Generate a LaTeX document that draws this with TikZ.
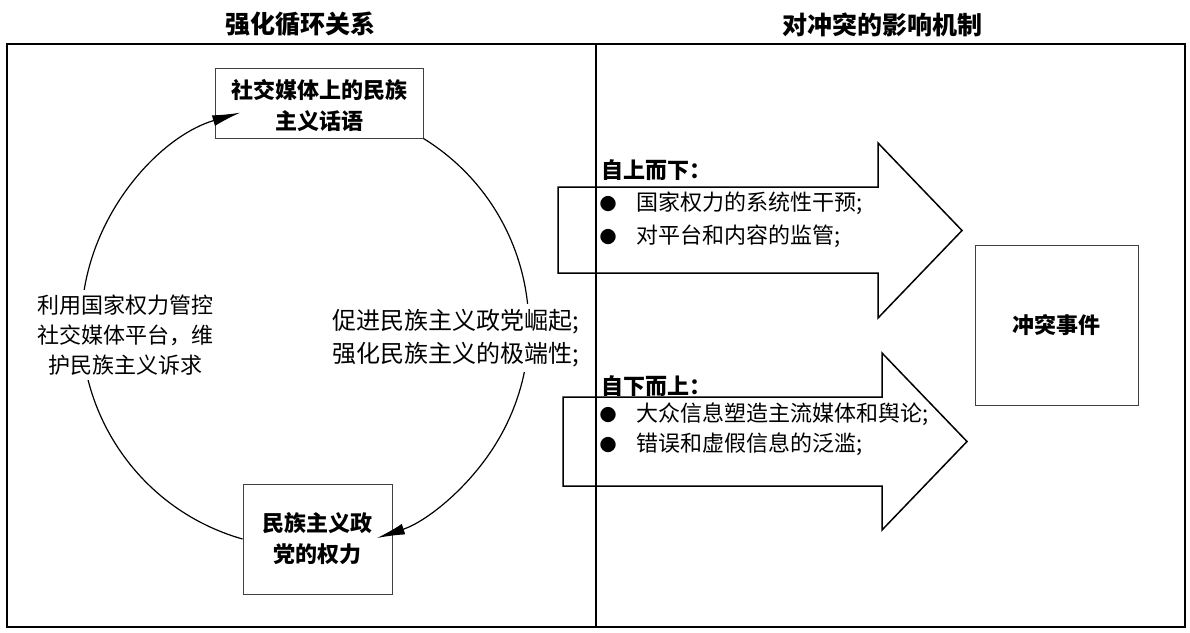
\documentclass[tikz,border=0pt]{standalone}
\usepackage{fontspec}
\setmainfont{Noto Sans CJK SC}
\usetikzlibrary{arrows.meta}
\newcommand{\bul}{\makebox[24pt][c]{\fontsize{17}{17}\selectfont ●}\hspace{16pt}}
\begin{document}
\begin{tikzpicture}[x=1pt,y=-1pt,
  box/.style={draw=black!75, line width=1pt, align=center, inner sep=0pt,
    font=\fontsize{22}{31}\selectfont\bfseries},
  lab/.style={fill=white, align=center, inner sep=5pt, font=\fontsize{22}{30}\selectfont},
  cyc/.style={line width=1.2pt, -{Latex[length=28pt,width=11pt]}},
  blk/.style={line width=1.5pt, line join=miter},
  itm/.style={anchor=west, inner sep=0pt, font=\fontsize{22}{26}\selectfont},
  hdr/.style={anchor=west, inner sep=0pt, font=\fontsize{22}{26}\selectfont\bfseries},
  ttl/.style={font=\fontsize{25}{28}\selectfont\bfseries}]
\useasboundingbox (0,0) rectangle (1190,632);
% titles
\node[ttl] (t1) at (300,24) {强化循环关系};
\node[ttl] (t2) at (882,25) {对冲突的影响机制};
% frame
\draw[line width=1.6pt] (7,44) rectangle (1185,627);
\draw[line width=1.6pt] (596,44) -- (596,627);
% boxes
\node[box, minimum width=208pt, minimum height=70pt, text depth=0pt, yshift=0pt] (top) at (319,103) {\raisebox{-3pt}{社交媒体上的民族}\\\raisebox{-3pt}{主义话语}};
\node[box, minimum width=149pt, minimum height=110pt] (bot) at (317.5,539) {民族主义政\\党的权力};
\node[box, minimum width=163pt, minimum height=160pt] (evt) at (1056.5,325) {冲突事件};
% cycle arcs
\draw[cyc] (bot.west) arc[start angle=105.9, end angle=253.5, radius=222];
\draw[cyc] (top.south east) arc[start angle=301.7, end angle=431.6, radius=222];
% arc labels
\node[lab] (l1) at (125,335) {利用国家权力管控\\社交媒体平台，维\\护民族主义诉求};
\node[lab, align=left, anchor=west, font=\fontsize{24}{33}\selectfont] (l2) at (327,338) {促进民族主义政党崛起;\\强化民族主义的极端性;};
% block arrows
\draw[blk] (558,187) -- (878,187) -- (878,143) -- (962,230.5) -- (878,318) -- (878,273) -- (558,273) -- cycle;
\draw[blk] (563,397) -- (882,397) -- (882,353) -- (967,441.5) -- (882,530) -- (882,486) -- (563,486) -- cycle;
% arrow texts
\node[hdr] (h1) at (601,170) {自上而下：};
\node[itm] (a1) at (596,203) {\bul 国家权力的系统性干预;};
\node[itm] (a2) at (596,236) {\bul 对平台和内容的监管;};
\node[hdr] (h2) at (601,386) {自下而上：};
\node[itm] (b1) at (596,414) {\bul 大众信息塑造主流媒体和舆论;};
\node[itm] (b2) at (596,444) {\bul 错误和虚假信息的泛滥;};
\end{tikzpicture}
\end{document}
